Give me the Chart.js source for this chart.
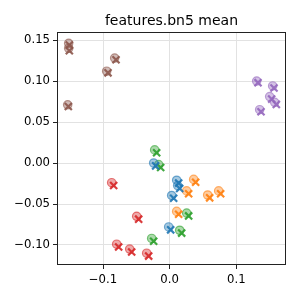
<!DOCTYPE html>
<html>
<head>
<meta charset="utf-8">
<script src="https://cdn.jsdelivr.net/npm/chart.js@4.4.0/dist/chart.umd.min.js"></script>
<style>
  body { margin: 0; background: #fff; }
  canvas { display: block; }
</style>
</head>
<body>
<canvas id="chart" width="299" height="299"></canvas>
<script>
const title = 'features.bn5 mean';
const classNames = ['0', '1', '2', '3', '4', '5'];
const colors = ['#1f77b4', '#ff7f0e', '#2ca02c', '#d62728', '#9467bd', '#8c564b'];

// circle markers (o), one list of x and y per class
const circleX = [
    [-0.024, 0.0105, 0.012, 0.003, -0.0015],
    [0.036, 0.0255, 0.057, 0.0735, 0.0105],
    [-0.0225, -0.0165, 0.0255, 0.015, -0.027],
    [-0.087, -0.0495, -0.0795, -0.060, -0.0345],
    [0.1305, 0.1545, 0.150, 0.1575, 0.135],
    [-0.1515, -0.1515, -0.0825, -0.0945, -0.153]
];
const circleY = [
    [0.000, -0.021, -0.0275, -0.0396, -0.078],
    [-0.020, -0.034, -0.039, -0.034, -0.059],
    [0.016, -0.002, -0.061, -0.082, -0.092],
    [-0.024, -0.065, -0.099, -0.105, -0.110],
    [0.100, 0.094, 0.081, 0.074, 0.065],
    [0.146, 0.140, 0.128, 0.112, 0.071]
];
// cross markers (x)
const crossX = [
    [-0.021, 0.0135, 0.015, 0.006, 0.0015],
    [0.039, 0.0285, 0.060, 0.0765, 0.0135],
    [-0.0195, -0.0135, 0.0285, 0.018, -0.024],
    [-0.084, -0.0465, -0.0765, -0.057, -0.0315],
    [0.1325, 0.1565, 0.153, 0.160, 0.137],
    [-0.1505, -0.1505, -0.0805, -0.0925, -0.152]
];
const crossY = [
    [-0.0035, -0.0245, -0.031, -0.043, -0.0815],
    [-0.0235, -0.0375, -0.0425, -0.0375, -0.0625],
    [0.0125, -0.0055, -0.0645, -0.0855, -0.0955],
    [-0.0275, -0.0685, -0.1025, -0.1085, -0.1135],
    [0.098, 0.0915, 0.078, 0.0715, 0.0625],
    [0.144, 0.137, 0.126, 0.110, 0.069]
];

const xTicks = [-0.1, 0.0, 0.1];
const yTicks = [-0.10, -0.05, 0.00, 0.05, 0.10, 0.15];

function fmt(v, digits) {
    const s = Math.abs(v).toFixed(digits);
    return (v < -1e-9 ? '\u2212' : '') + s;
}

function alpha(hex, a) {
    const n = parseInt(hex.slice(1), 16);
    return `rgba(${n >> 16}, ${(n >> 8) & 255}, ${n & 255}, ${a})`;
}

const datasets = [];
classNames.forEach((name, i) => {
    datasets.push({
        label: name + ' o',
        data: circleX[i].map((x, j) => ({ x: x, y: circleY[i][j] })),
        pointStyle: 'circle',
        pointRadius: 4.2,
        backgroundColor: alpha(colors[i], 0.4),
        borderColor: alpha(colors[i], 0.6),
        borderWidth: 1.2
    });
    datasets.push({
        label: name + ' x',
        data: crossX[i].map((x, j) => ({ x: x, y: crossY[i][j] })),
        pointStyle: 'crossRot',
        pointRadius: 5,
        borderColor: alpha(colors[i], 0.9),
        borderWidth: 2.2
    });
});

const framePlugin = {
    id: 'frame',
    afterDraw(chart) {
        const { ctx, chartArea: a } = chart;
        ctx.save();
        ctx.strokeStyle = '#222';
        ctx.lineWidth = 1;
        ctx.strokeRect(a.left + 0.5, a.top + 0.5, a.right - a.left - 1, a.bottom - a.top - 1);
        ctx.fillStyle = '#000';
        ctx.font = '14px "DejaVu Sans"';
        ctx.textAlign = 'center';
        ctx.textBaseline = 'middle';
        ctx.fillText(title, (a.left + a.right) / 2, 21);
        ctx.restore();
    }
};

const tickFont = { family: 'DejaVu Sans', size: 11.7 };

new Chart(document.getElementById('chart').getContext('2d'), {
    type: 'scatter',
    data: { datasets: datasets },
    options: {
        responsive: false,
        animation: false,
        layout: { padding: { top: 32, right: 13, left: 0, bottom: 0 } },
        plugins: {
            legend: { display: false },
            tooltip: { enabled: false }
        },
        scales: {
            x: {
                min: -0.169,
                max: 0.1745,
                afterBuildTicks: scale => { scale.ticks = xTicks.map(v => ({ value: v })); },
                afterFit: scale => { scale.height = 34; },
                grid: { color: '#e2e2e2', tickColor: '#222', tickLength: 4 },
                border: { display: false },
                ticks: {
                    font: tickFont, color: '#000', padding: 4,
                    maxRotation: 0,
                    callback: v => fmt(v, 1)
                }
            },
            y: {
                min: -0.1244,
                max: 0.1598,
                afterBuildTicks: scale => { scale.ticks = yTicks.map(v => ({ value: v })); },
                afterFit: scale => { scale.width = 57; },
                grid: { color: '#e2e2e2', tickColor: '#222', tickLength: 4 },
                border: { display: false },
                ticks: {
                    font: tickFont, color: '#000', padding: 3,
                    callback: v => fmt(v, 2)
                }
            }
        }
    },
    plugins: [framePlugin]
});
</script>
</body>
</html>
